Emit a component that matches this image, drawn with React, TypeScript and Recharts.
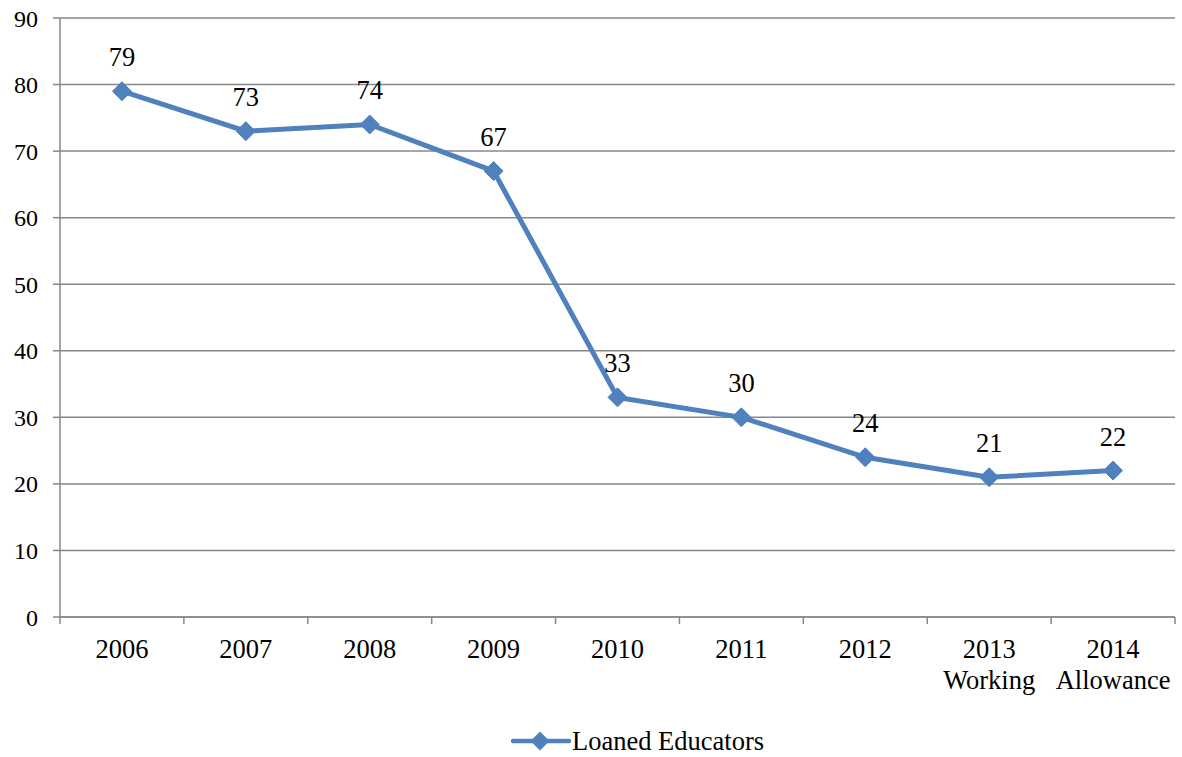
import React from "react";
import { LineChart, Line, XAxis, YAxis, CartesianGrid, LabelList, Legend } from "recharts";

const years = ["2006", "2007", "2008", "2009", "2010", "2011", "2012", "2013", "2014"];
const subLabels = ["", "", "", "", "", "", "", "Working", "Allowance"];
const loaned = [79, 73, 74, 67, 33, 30, 24, 21, 22];
const yTicks = [0, 10, 20, 30, 40, 50, 60, 70, 80, 90];

const data = years.map((y, i) => ({ year: y, sub: subLabels[i], value: loaned[i] }));

const W = 1182;
const H = 757;
const LEFT = 60;
const RIGHT_EDGE = 1175;
const band = (RIGHT_EDGE - LEFT) / years.length;
const BLUE = "#4F81BD";
const GRID = "#888888";
const FONT = "'Liberation Serif', 'Times New Roman', serif";
const FS = 26.5;
const FS_Y = 24;

const XTick = (props: any) => {
    const { x, y, payload, index } = props;
    const sub = subLabels[index] || "";
    const isLast = index === years.length - 1;
    return (
        <g>
            <line x1={x - band / 2} y1={y} x2={x - band / 2} y2={y + 7} stroke={GRID} strokeWidth={1.5} />
            {isLast && <line x1={x + band / 2} y1={y} x2={x + band / 2} y2={y + 7} stroke={GRID} strokeWidth={1.5} />}
            <text x={x} y={y + 41} textAnchor="middle" fontSize={FS} fontFamily={FONT} fill="#000">
                {payload.value}
            </text>
            {sub && (
                <text x={x} y={y + 72} textAnchor="middle" fontSize={FS} fontFamily={FONT} fill="#000">
                    {sub}
                </text>
            )}
        </g>
    );
};

const Diamond = (props: any) => {
    const { cx, cy } = props;
    if (cx == null || cy == null) return null;
    const r = 9.5;
    return (
        <polygon
            points={`${cx},${cy - r} ${cx + r},${cy} ${cx},${cy + r} ${cx - r},${cy}`}
            fill={BLUE}
            stroke={BLUE}
        />
    );
};

const LegendContent = () => (
    <div
        style={{
            display: "flex",
            justifyContent: "center",
            alignItems: "center",
            fontFamily: FONT,
            fontSize: FS,
            lineHeight: "28px",
            marginLeft: 100,
        }}
    >
        <svg width={60} height={20} style={{ marginRight: 1 }}>
            <line x1={2} y1={10} x2={58} y2={10} stroke={BLUE} strokeWidth={4.5} strokeLinecap="round" />
            <polygon points="29,0.5 38.5,10 29,19.5 19.5,10" fill={BLUE} />
        </svg>
        <span style={{ color: "#000" }}>Loaned Educators</span>
    </div>
);

export default function App() {
    return (
        <div style={{ width: W, height: H, background: "#fff" }}>
            <style>{`body{margin:0}`}</style>
            <LineChart
                width={W}
                height={H}
                data={data}
                margin={{ top: 18, right: W - RIGHT_EDGE, left: 0, bottom: 0 }}
            >
                <CartesianGrid vertical={false} stroke={GRID} strokeWidth={1.5} />
                <XAxis
                    dataKey="year"
                    height={110}
                    padding={{ left: band / 2, right: band / 2 }}
                    axisLine={{ stroke: GRID, strokeWidth: 1.5 }}
                    tickLine={false}
                    tickSize={0}
                    tickMargin={0}
                    interval={0}
                    tick={<XTick />}
                />
                <YAxis
                    width={LEFT}
                    domain={[0, 90]}
                    ticks={yTicks}
                    interval={0}
                    axisLine={{ stroke: GRID, strokeWidth: 1.5 }}
                    tickLine={{ stroke: GRID, strokeWidth: 1.5 }}
                    tickSize={7}
                    tickMargin={15}
                    tick={{ fontSize: FS_Y, fontFamily: FONT, fill: "#000" }}
                />
                <Legend
                    verticalAlign="bottom"
                    height={30}
                    wrapperStyle={{ bottom: 0 }}
                    content={<LegendContent />}
                />
                <Line
                    type="linear"
                    dataKey="value"
                    stroke={BLUE}
                    strokeWidth={5}
                    dot={<Diamond />}
                    activeDot={false}
                    isAnimationActive={false}
                >
                    <LabelList
                        dataKey="value"
                        position="top"
                        offset={25}
                        style={{ fontSize: FS, fontFamily: FONT, fill: "#000" }}
                    />
                </Line>
            </LineChart>
        </div>
    );
}
